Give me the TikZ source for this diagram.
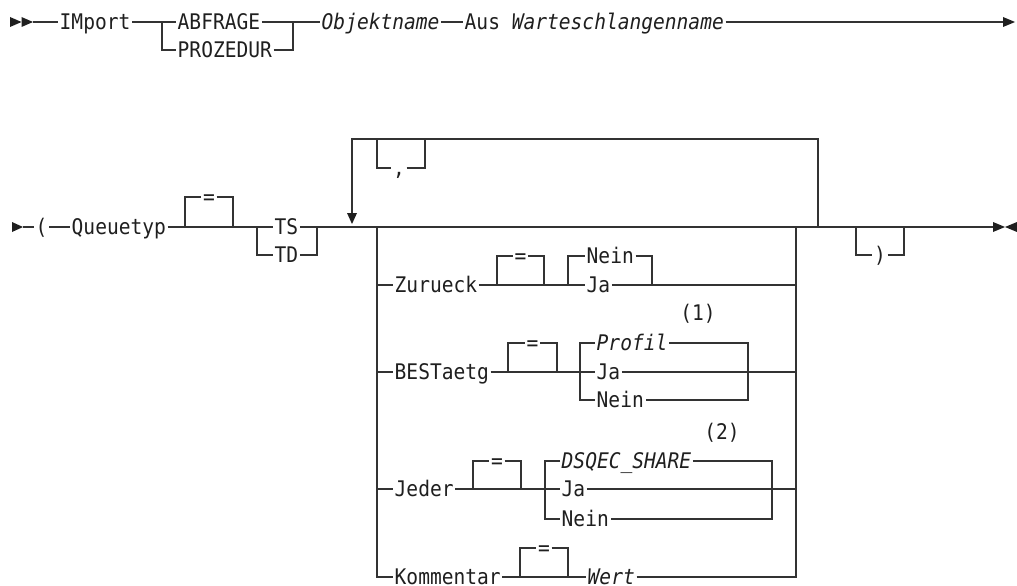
\documentclass[tikz,border=0pt]{standalone}
\usepackage{fontspec}
\newfontfamily\mono[FakeStretch=0.91]{DejaVu Sans Mono}
\begin{document}
\begin{tikzpicture}[x=1pt,y=-1pt,
  t/.style={anchor=west, inner xsep=1.5pt, inner ysep=0pt, text height=15pt, text depth=0.5pt,
            font=\mono\fontsize{21.5}{24}\selectfont, text=black!88},
  ti/.style={t, font=\mono\itshape\fontsize{21.5}{24}\selectfont},
  ln/.style={line width=1.2pt, draw=black!80},
  tip/.style={fill=black!88}]
\useasboundingbox[fill=white] (0,0) rectangle (1017,586);

% ---------------- line 1 ----------------
\fill[tip] (10,17) -- (21.5,22) -- (10,27) -- cycle;
\fill[tip] (21.5,17) -- (33,22) -- (21.5,27) -- cycle;
\coordinate (s1) at (33,22);
\node[t] (imp) at (58,22) {IMport};
\node[t] (abf) at (176,22) {ABFRAGE};
\node[t] (proz) at (176,50) {PROZEDUR};
\coordinate (b1l) at (162,22);
\coordinate (b1r) at (293,22);
\node[ti] (obj) at (320,22) {Objektname};
\node[t] (aus) at (463,22) {Aus {\itshape Warteschlangenname}};
\coordinate (e1) at (1003,22);
\fill[tip] (1003,17) -- (1015,22) -- (1003,27) -- cycle;

\draw[ln] (s1) -- (imp.west);
\draw[ln] (imp.east) -- (abf.west);
\draw[ln] (b1l) |- (proz.west);
\draw[ln] (abf.east) -- (obj.west);
\draw[ln] (proz.east) -| (b1r);
\draw[ln] (obj.east) -- (aus.west);
\draw[ln] (aus.east) -- (e1);

% ---------------- line 2 ----------------
\fill[tip] (12,222) -- (23,227) -- (12,232) -- cycle;
\coordinate (s2) at (23,227);
\node[t] (lp) at (34,227) {(};
\node[t] (qt) at (70,227) {Queuetyp};
\node[t, anchor=center] (eq1) at (209,197) {=};
\coordinate (q1) at (185,227);
\coordinate (q2) at (233,227);
\node[t] (ts) at (273,227) {TS};
\node[t] (td) at (273,255) {TD};
\coordinate (tl) at (257,227);
\coordinate (tr) at (317,227);
\coordinate (e2) at (993,227);
\fill[tip] (993,222) -- (1005,227) -- (993,232) -- cycle;
\fill[tip] (1017,222) -- (1005,227) -- (1017,232) -- cycle;

\draw[ln] (s2) -- (lp.west);
\draw[ln] (lp.east) -- (qt.west);
\draw[ln] (qt.east) -- (ts.west);
\draw[ln] (q1) |- (eq1.west);
\draw[ln] (eq1.east) -| (q2);
\draw[ln] (tl) |- (td.west);
\draw[ln] (td.east) -| (tr);
\draw[ln] (ts.east) -- (e2);

% repeat loop
\coordinate (lr) at (818,227);
\coordinate (la) at (352,213);
\draw[ln] (lr) |- (352,139) -- (la);
\fill[tip] (347,213) -- (357,213) -- (352,224) -- cycle;
\node[t, anchor=center] (cm) at (399,168) {,};
\draw[ln] (377,139) |- (cm.west);
\draw[ln] (cm.east) -| (425,139);

% closing parenthesis
\node[t, anchor=center] (rp) at (880,255) {)};
\draw[ln] (856,227) |- (rp.west);
\draw[ln] (rp.east) -| (904,227);

% choices
\coordinate (cl) at (377,227);
\coordinate (cr) at (796,227);

% Zurueck
\node[t] (zur) at (393,285) {Zurueck};
\node[t, anchor=center] (eq2) at (520.5,256) {=};
\node[t] (nein1) at (585,256) {Nein};
\node[t] (ja1) at (585,285) {Ja};
\draw[ln] (zur.west -| cl) -- (zur.west);
\draw[ln] (zur.east) -- (ja1.west);
\draw[ln] (497,285) |- (eq2.west);
\draw[ln] (eq2.east) -| (544,285);
\draw[ln] (568,285) |- (nein1.west);
\draw[ln] (nein1.east) -| (652,285);
\draw[ln] (ja1.east) -- (ja1.east -| cr);

% BESTaetg
\node[t] (bes) at (393,372) {BESTaetg};
\node[t, anchor=center] (eq3) at (532.5,343) {=};
\node[ti] (prof) at (595,343) {Profil};
\node[t] (ja2) at (595,372) {Ja};
\node[t] (nein2) at (595,400) {Nein};
\node[t, anchor=center] (n1) at (698,313) {(1)};
\draw[ln] (bes.west -| cl) -- (bes.west);
\draw[ln] (bes.east) -- (ja2.west);
\draw[ln] (508,372) |- (eq3.west);
\draw[ln] (eq3.east) -| (557,372);
\draw[ln] (prof.west) -| (580,400) -- (nein2.west);
\draw[ln] (prof.east) -| (748,400) -- (nein2.east);
\draw[ln] (ja2.east) -- (ja2.east -| cr);

% Jeder
\node[t] (jed) at (393,489) {Jeder};
\node[t, anchor=center] (eq4) at (497,461) {=};
\node[ti] (dsq) at (560,461) {DSQEC\_SHARE};
\node[t] (ja3) at (560,489) {Ja};
\node[t] (nein3) at (560,519) {Nein};
\node[t, anchor=center] (n2) at (722,432) {(2)};
\draw[ln] (jed.west -| cl) -- (jed.west);
\draw[ln] (jed.east) -- (ja3.west);
\draw[ln] (473,489) |- (eq4.west);
\draw[ln] (eq4.east) -| (521,489);
\draw[ln] (dsq.west) -| (545,519) -- (nein3.west);
\draw[ln] (dsq.east) -| (772,519) -- (nein3.east);
\draw[ln] (ja3.east) -- (ja3.east -| cr);

% Kommentar
\node[t] (kom) at (393,577) {Kommentar};
\node[t, anchor=center] (eq5) at (544,548) {=};
\node[ti] (wert) at (586,577) {Wert};
\draw[ln] (cl) |- (kom.west);
\draw[ln] (kom.east) -- (wert.west);
\draw[ln] (520,577) |- (eq5.west);
\draw[ln] (eq5.east) -| (568,577);
\draw[ln] (wert.east) -| (cr);
\end{tikzpicture}
\end{document}
